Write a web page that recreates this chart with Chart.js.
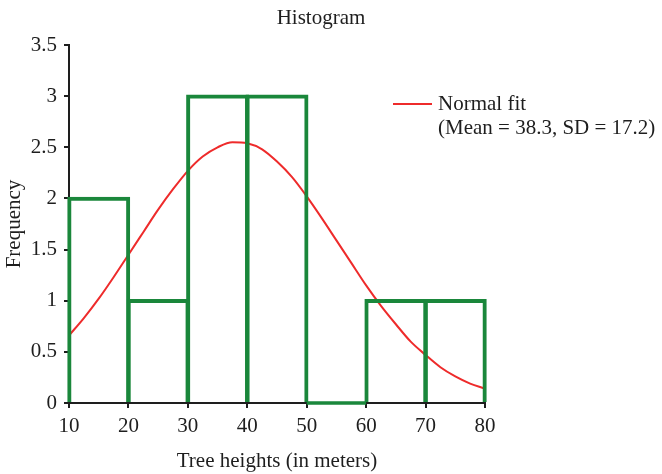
<!DOCTYPE html>
<html>
<head>
<meta charset="utf-8">
<script src="https://cdn.jsdelivr.net/npm/chart.js@4.4.0/dist/chart.umd.min.js"></script>
<style>
  html, body { margin: 0; padding: 0; background: #ffffff; }
  #wrap { width: 662px; height: 474px; }
</style>
</head>
<body>
<div id="wrap"><canvas id="c" width="662" height="474"></canvas></div>
<script>
// Histogram bins (tree heights in metres) and their counts
const binEdges = [10, 20, 30, 40, 50, 60, 70, 80];
const binCounts = [2, 1, 3, 3, 0, 1, 1];

// Fitted normal curve, scaled to counts
const fitX = [10, 12.5, 15, 17.5, 20, 22.5, 25, 27.5, 30, 32.5, 35, 37.5, 40, 42.5, 45,
              47.5, 50, 52.5, 55, 57.5, 60, 62.5, 65, 67.5, 70, 72.5, 75, 77.5, 80];
const fitY = [0.66, 0.83, 1.02, 1.23, 1.45, 1.67, 1.89, 2.09, 2.27, 2.41, 2.50, 2.55, 2.54, 2.48, 2.36,
              2.21, 2.02, 1.81, 1.59, 1.37, 1.15, 0.95, 0.77, 0.60, 0.47, 0.35, 0.26, 0.19, 0.14];

const yTicks = [0, 0.5, 1, 1.5, 2, 2.5, 3, 3.5];
const xTicks = [10, 20, 30, 40, 50, 60, 70, 80];

const fitLabel = 'Normal fit';
const fitNote = '(Mean = 38.3, SD = 17.2)';

const GREEN = '#1a873b';
const RED = '#ee2b2b';
const INK = '#1e1e1e';
const FONT = "'Liberation Serif', 'Times New Roman', serif";

// bars centred on their bins
const barPoints = binCounts.map((c, i) => ({ x: (binEdges[i] + binEdges[i + 1]) / 2, y: c }));

// empty bins are shown as a flat segment along zero
const emptyBinPoints = [];
binCounts.forEach((c, i) => {
  if (c === 0) {
    emptyBinPoints.push({ x: binEdges[i], y: 0 }, { x: binEdges[i + 1], y: 0 });
    emptyBinPoints.push({ x: binEdges[i + 1], y: null });
  }
});

const fitPoints = fitX.map((x, i) => ({ x: x, y: fitY[i] }));

Chart.defaults.font.family = FONT;
Chart.defaults.font.size = 21;
Chart.defaults.color = INK;

const headerAndKey = {
  id: 'headerAndKey',
  afterDraw(chart) {
    const ctx = chart.ctx;
    ctx.save();
    ctx.fillStyle = INK;
    ctx.font = '21px ' + FONT;
    ctx.textAlign = 'center';
    ctx.textBaseline = 'alphabetic';
    ctx.fillText('Histogram', 321, 24);

    // key for the fitted curve
    ctx.strokeStyle = RED;
    ctx.lineWidth = 2;
    ctx.beginPath();
    ctx.moveTo(393, 104);
    ctx.lineTo(432, 104);
    ctx.stroke();
    ctx.textAlign = 'left';
    ctx.fillText(fitLabel, 438, 110);
    ctx.fillText(fitNote, 438, 134);
    ctx.restore();
  }
};

new Chart(document.getElementById('c'), {
  type: 'bar',
  data: {
    datasets: [
      {
        type: 'bar',
        data: barPoints,
        backgroundColor: 'rgba(0,0,0,0)',
        borderColor: GREEN,
        borderWidth: 0.5,
        inflateAmount: 1.75,
        borderSkipped: 'start',
        barPercentage: 1,
        categoryPercentage: 1,
        clip: false,
        order: 1
      },
      {
        type: 'line',
        data: emptyBinPoints,
        borderColor: GREEN,
        borderWidth: 3.5,
        pointRadius: 0,
        fill: false,
        spanGaps: false,
        clip: false,
        order: 0
      },
      {
        type: 'line',
        data: fitPoints,
        borderColor: RED,
        borderWidth: 2,
        pointRadius: 0,
        fill: false,
        tension: 0.4,
        cubicInterpolationMode: 'monotone',
        clip: false,
        order: 3
      }
    ]
  },
  options: {
    responsive: false,
    animation: false,
    devicePixelRatio: 1,
    layout: { padding: { left: 0, right: 177, top: 45, bottom: 0 } },
    plugins: {
      legend: { display: false },
      title: { display: false },
      tooltip: { enabled: false }
    },
    scales: {
      x: {
        type: 'linear',
        min: xTicks[0],
        max: xTicks[xTicks.length - 1],
        offset: false,
        afterBuildTicks: s => { s.ticks = xTicks.map(v => ({ value: v })); },
        afterFit: s => { s.height = 71; },
        grid: { offset: false, drawOnChartArea: false, drawTicks: true, tickLength: 5, color: INK, lineWidth: 2 },
        border: { display: true, color: INK, width: 2 },
        ticks: { padding: 6, color: INK, font: { size: 21 }, maxRotation: 0, callback: v => String(v) },
        title: { display: true, text: 'Tree heights (in meters)', color: INK, font: { size: 21 }, padding: { top: 0, bottom: 0 } }
      },
      y: {
        min: yTicks[0],
        max: yTicks[yTicks.length - 1],
        afterBuildTicks: s => { s.ticks = yTicks.map(v => ({ value: v })); },
        afterFit: s => { s.width = 69; },
        grid: { offset: false, drawOnChartArea: false, drawTicks: true, tickLength: 5, color: INK, lineWidth: 2 },
        border: { display: true, color: INK, width: 2 },
        ticks: { padding: 7, color: INK, font: { size: 21 }, callback: v => String(v) },
        title: { display: true, text: 'Frequency', color: INK, font: { size: 21 }, padding: { top: 2, bottom: 0 } }
      }
    }
  },
  plugins: [headerAndKey]
});
</script>
</body>
</html>
